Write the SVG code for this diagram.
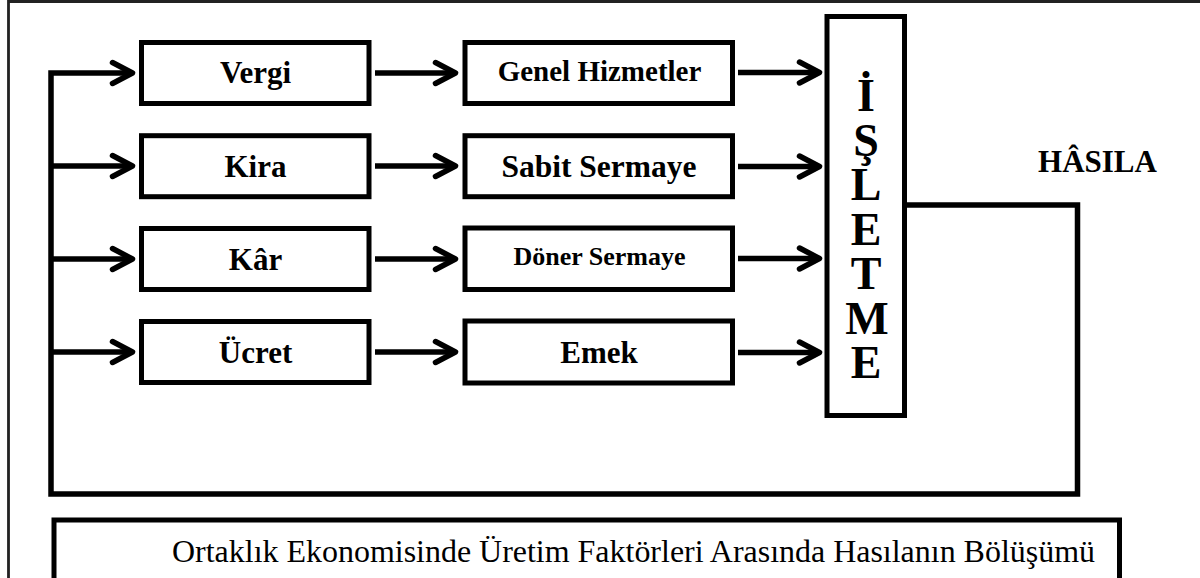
<svg xmlns="http://www.w3.org/2000/svg" width="1200" height="578" viewBox="0 0 1200 578">
<style>
.box{fill:#fff;stroke:#000;stroke-width:5}
.ln{fill:none;stroke:#000;stroke-width:5.5}
.lbl{font-family:"Liberation Serif","Times New Roman",serif;font-weight:bold;text-anchor:middle;fill:#000}
.cap{font-family:"Liberation Serif","Times New Roman",serif;font-size:32px;fill:#000}
</style>
<defs>
<marker id="arr" markerUnits="userSpaceOnUse" markerWidth="30" markerHeight="30" refX="18" refY="11" orient="auto" overflow="visible">
<path d="M1,0.5 L21,11 L1,21.5" fill="none" stroke="#000" stroke-width="5.5" stroke-linecap="round" stroke-linejoin="round"/>
</marker>
</defs>
<rect width="1200" height="578" fill="#fff"/>
<g id="frame">
<path d="M8.5,578 V1.5 H1200" fill="none" stroke="#222" stroke-width="2.8"/>
</g>
<g id="connectors">
<path class="ln" d="M906,205 H1077.5 V494 H51 V73 H129.5" stroke-linejoin="miter" marker-end="url(#arr)"/>
<path class="ln" d="M51,166 H129.5" marker-end="url(#arr)"/>
<path class="ln" d="M51,259 H129.5" marker-end="url(#arr)"/>
<path class="ln" d="M51,352 H129.5" marker-end="url(#arr)"/>
<path class="ln" d="M375,73 H452.5" marker-end="url(#arr)"/>
<path class="ln" d="M375,166 H452.5" marker-end="url(#arr)"/>
<path class="ln" d="M375,259 H452.5" marker-end="url(#arr)"/>
<path class="ln" d="M375,352 H452.5" marker-end="url(#arr)"/>
<path class="ln" d="M738,72.5 H816.5" marker-end="url(#arr)"/>
<path class="ln" d="M738,166.5 H816.5" marker-end="url(#arr)"/>
<path class="ln" d="M738,258.5 H816.5" marker-end="url(#arr)"/>
<path class="ln" d="M738,352.5 H816.5" marker-end="url(#arr)"/>
</g>
<g id="vergi"><rect class="box" x="141.5" y="42.5" width="227.5" height="61"/><text class="lbl" x="255.5" y="83.3" font-size="31">Vergi</text></g>
<g id="kira"><rect class="box" x="141.5" y="135.7" width="227.5" height="61"/><text class="lbl" x="255.5" y="176.7" font-size="31">Kira</text></g>
<g id="kar"><rect class="box" x="141.5" y="228.5" width="227.5" height="61"/><text class="lbl" x="255.5" y="269.5" font-size="31">Kâr</text></g>
<g id="ucret"><rect class="box" x="141.5" y="321.5" width="227.5" height="61"/><text class="lbl" x="255.5" y="363" font-size="31">Ücret</text></g>
<g id="genel-hizmetler"><rect class="box" x="465" y="42.5" width="267.5" height="61"/><text class="lbl" x="599.5" y="81" font-size="29">Genel Hizmetler</text></g>
<g id="sabit-sermaye"><rect class="box" x="465" y="135.7" width="267.5" height="61"/><text class="lbl" x="599" y="176.7" font-size="31.5">Sabit Sermaye</text></g>
<g id="doner-sermaye"><rect class="box" x="465" y="228" width="267.5" height="61.5"/><text class="lbl" x="599.5" y="265" font-size="26">Döner Sermaye</text></g>
<g id="emek"><rect class="box" x="465" y="321" width="267.5" height="62"/><text class="lbl" x="599" y="362.7" font-size="31">Emek</text></g>
<g id="isletme">
<rect class="box" x="827" y="16.5" width="77.5" height="399"/>
<g class="lbl" font-size="46">
<text x="866" y="111">İ</text>
<text x="866" y="155.5">Ş</text>
<text x="866" y="200">L</text>
<text x="866" y="244.5">E</text>
<text x="866" y="289">T</text>
<text x="867" y="333.5">M</text>
<text x="866" y="378">E</text>
</g>
</g>
<g id="hasila"><text class="lbl" x="1097.5" y="172" font-size="31">HÂSILA</text></g>
<g id="caption">
<rect class="box" x="54" y="520" width="1065.5" height="90"/>
<text class="cap" x="172" y="562" textLength="923" lengthAdjust="spacingAndGlyphs">Ortaklık Ekonomisinde Üretim Faktörleri Arasında Hasılanın Bölüşümü</text>
</g>
</svg>
